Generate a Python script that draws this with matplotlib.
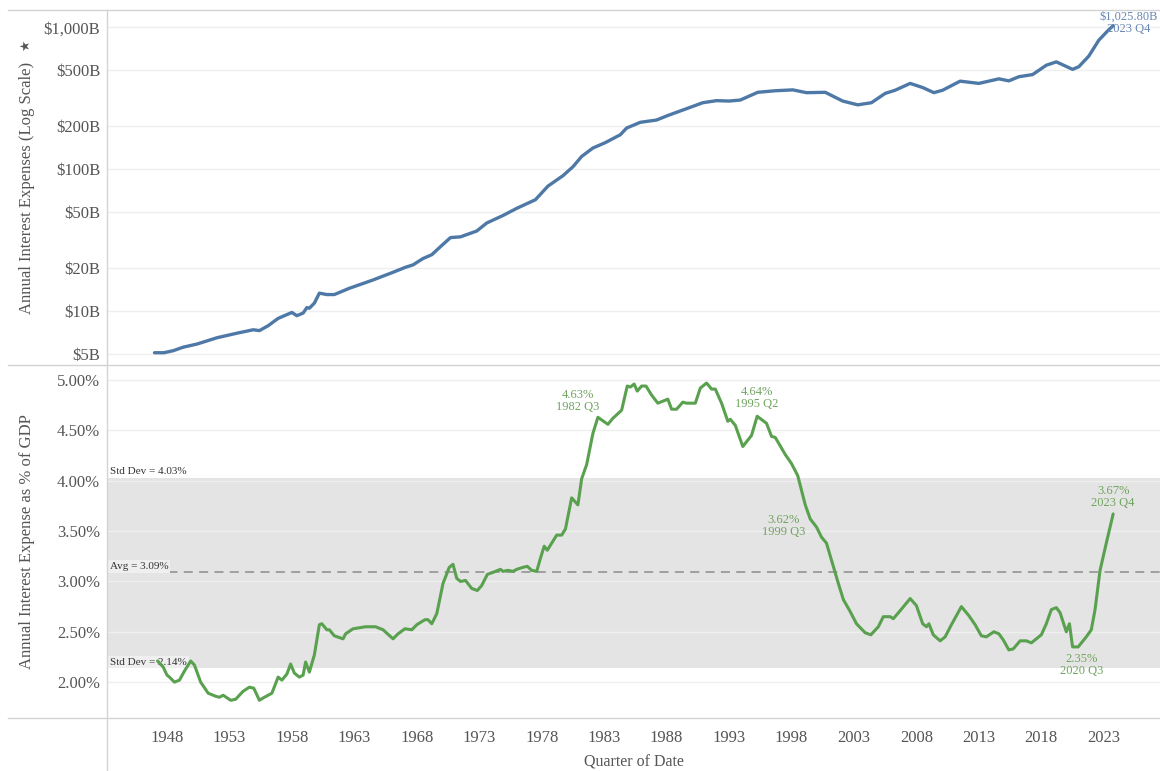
import matplotlib
matplotlib.use('Agg')
import matplotlib.pyplot as plt
from matplotlib.ticker import FixedLocator, FuncFormatter, NullLocator
from matplotlib.lines import Line2D
import matplotlib.transforms as mtrans

plt.rcParams['font.family'] = ['Liberation Serif', 'DejaVu Serif']

# ---------------- data ----------------
top_years = [1947.0, 1947.75, 1948.5, 1949.3, 1950.4, 1952.0, 1953.6, 1954.9, 1955.4, 1956.1,
             1956.9, 1958.0, 1958.4, 1958.9, 1959.2, 1959.4, 1959.8, 1960.2, 1960.8, 1961.4,
             1962.6, 1964.5, 1966.1, 1967.1, 1967.7, 1968.5, 1969.2, 1969.9, 1970.7, 1971.5,
             1972.8, 1973.6, 1974.9, 1976.0, 1977.5, 1978.5, 1979.7, 1980.5, 1981.2, 1982.1,
             1983.1, 1984.3, 1984.8, 1985.9, 1987.2, 1988.1, 1989.4, 1990.9, 1992.0, 1993.0,
             1993.9, 1995.3, 1996.7, 1998.1, 1999.2, 2000.7, 2002.1, 2003.3, 2004.4, 2005.5,
             2006.3, 2007.5, 2008.5, 2009.4, 2010.1, 2011.5, 2013.0, 2014.6, 2015.4, 2016.2,
             2017.3, 2018.4, 2019.2, 2020.5, 2021.0, 2021.8, 2022.6, 2023.3, 2023.75]
top_values = [5.1, 5.1, 5.27, 5.58, 5.87, 6.5, 7.0, 7.4, 7.3, 7.9,
              8.9, 9.8, 9.3, 9.7, 10.6, 10.5, 11.4, 13.4, 13.1, 13.1,
              14.5, 16.6, 18.8, 20.4, 21.2, 23.5, 25.0, 28.5, 33.0, 33.4,
              36.7, 41.8, 47.2, 53.0, 61.0, 76.0, 90.0, 104.0, 123.0, 141.0,
              154.0, 175.0, 195.0, 214.0, 222.0, 239.0, 263.0, 294.0, 304.0, 302.0,
              307.0, 348.0, 357.0, 362.0, 346.0, 348.0, 302.0, 284.0, 294.0, 342.0,
              360.0, 402.0, 376.0, 346.0, 360.0, 417.0, 402.0, 433.0, 419.0, 448.0,
              464.0, 540.0, 570.0, 505.0, 527.0, 626.0, 810.0, 940.0, 1025.8]

gdp_years = [1947.25, 1947.7, 1948.0, 1948.2, 1948.6, 1949.0, 1949.4, 1949.9, 1950.2, 1950.7,
             1951.3, 1951.9, 1952.2, 1952.5, 1953.1, 1953.5, 1954.1, 1954.6, 1954.95, 1955.4,
             1955.8, 1956.4, 1956.9, 1957.2, 1957.6, 1957.9, 1958.2, 1958.6, 1958.9, 1959.1,
             1959.4, 1959.8, 1960.2, 1960.4, 1960.8, 1961.0, 1961.4, 1962.1, 1962.3, 1962.9,
             1963.9, 1964.7, 1965.3, 1966.1, 1966.5, 1967.05, 1967.6, 1968.0, 1968.65, 1968.9,
             1969.2, 1969.6, 1970.1, 1970.6, 1970.9, 1971.2, 1971.5, 1971.9, 1972.4, 1972.85,
             1973.2, 1973.65, 1974.1, 1974.7, 1974.9, 1975.3, 1975.7, 1976.0, 1976.5, 1976.85,
             1977.2, 1977.6, 1977.9, 1978.2, 1978.45, 1978.8, 1979.2, 1979.6, 1979.9, 1980.4,
             1980.9, 1981.2, 1981.6, 1982.1, 1982.5, 1983.3, 1983.7, 1984.4, 1984.85, 1985.1,
             1985.4, 1985.65, 1986.0, 1986.35, 1986.8, 1987.3, 1987.7, 1988.1, 1988.4, 1988.8,
             1989.3, 1989.6, 1990.3, 1990.7, 1991.2, 1991.6, 1991.9, 1992.4, 1992.9, 1993.1,
             1993.5, 1994.1, 1994.8, 1995.25, 1996.0, 1996.4, 1996.7, 1997.5, 1998.0, 1998.5,
             1999.1, 1999.5, 2000.0, 2000.4, 2000.8, 2001.35, 2001.75, 2002.15, 2002.7, 2003.2,
             2003.9, 2004.35, 2004.95, 2005.35, 2005.9, 2006.15, 2006.7, 2007.1, 2007.5, 2008.0,
             2008.5, 2008.8, 2009.0, 2009.35, 2009.9, 2010.3, 2010.8, 2011.6, 2012.2, 2012.7,
             2013.2, 2013.6, 2014.2, 2014.6, 2014.95, 2015.4, 2015.75, 2016.3, 2016.8, 2017.2,
             2017.6, 2018.0, 2018.4, 2018.8, 2019.2, 2019.5, 2020.0, 2020.25, 2020.5, 2020.95,
             2021.6, 2022.0, 2022.3, 2022.7, 2023.2, 2023.75]
gdp_values = [2.21, 2.15, 2.07, 2.05, 2.00, 2.02, 2.11, 2.21, 2.17, 2.00,
              1.89, 1.86, 1.85, 1.87, 1.82, 1.83, 1.91, 1.95, 1.94, 1.82,
              1.85, 1.89, 2.05, 2.02, 2.08, 2.18, 2.09, 2.05, 2.07, 2.20,
              2.10, 2.27, 2.57, 2.58, 2.52, 2.52, 2.46, 2.43, 2.48, 2.53,
              2.55, 2.55, 2.52, 2.43, 2.48, 2.53, 2.52, 2.57, 2.62, 2.62,
              2.58, 2.68, 2.98, 3.14, 3.17, 3.03, 3.00, 3.01, 2.93, 2.91,
              2.96, 3.07, 3.09, 3.12, 3.10, 3.11, 3.10, 3.12, 3.14, 3.15,
              3.11, 3.10, 3.23, 3.35, 3.31, 3.38, 3.46, 3.46, 3.52, 3.83,
              3.76, 4.02, 4.16, 4.47, 4.63, 4.56, 4.62, 4.70, 4.94, 4.93,
              4.96, 4.89, 4.94, 4.94, 4.85, 4.77, 4.79, 4.81, 4.71, 4.71,
              4.78, 4.77, 4.77, 4.92, 4.97, 4.91, 4.91, 4.77, 4.59, 4.61,
              4.55, 4.34, 4.45, 4.64, 4.57, 4.44, 4.43, 4.26, 4.17, 4.05,
              3.76, 3.62, 3.54, 3.44, 3.38, 3.15, 2.98, 2.82, 2.70, 2.58,
              2.49, 2.47, 2.55, 2.65, 2.65, 2.63, 2.71, 2.77, 2.83, 2.76,
              2.58, 2.55, 2.58, 2.47, 2.41, 2.45, 2.57, 2.75, 2.66, 2.57,
              2.46, 2.45, 2.50, 2.48, 2.42, 2.32, 2.33, 2.41, 2.41, 2.39,
              2.43, 2.47, 2.58, 2.72, 2.74, 2.69, 2.50, 2.58, 2.35, 2.35,
              2.45, 2.52, 2.72, 3.11, 3.38, 3.67]

avg_pct = 3.09
sd_low = 2.14
sd_high = 4.03

top_ticks = [5, 10, 20, 50, 100, 200, 500, 1000]
gdp_ticks = [2.0, 2.5, 3.0, 3.5, 4.0, 4.5, 5.0]
year_ticks = list(range(1948, 2024, 5))

# annotations: (year, value, label, dx_px, dy_px)
gdp_annots = [(1982.5, 4.63, "4.63%\n1982 Q3", -20, 16),
              (1995.25, 4.64, "4.64%\n1995 Q2", 0, 18),
              (1999.5, 3.62, "3.62%\n1999 Q3", -27, -7),
              (2020.5, 2.35, "2.35%\n2020 Q3", 9, -18),
              (2023.75, 3.67, "3.67%\n2023 Q4", 0, 17)]
top_annot = (2023.75, 1025.8, "$1,025.80B\n2023 Q4")

# ---------------- style ----------------
BLUE = '#4e79a7'
GREEN = '#59a14f'
GREEN_TXT = '#6fa45f'
BLUE_TXT = '#6787b3'
TICK_C = '#555555'
GRID_C = '#efefef'
DIV_C = '#d3d3d3'

W, H = 1160, 771
fig = plt.figure(figsize=(W / 100, H / 100), dpi=100)


def px_rect(l, t, r, b):
    return [l / W, 1 - b / H, (r - l) / W, (b - t) / H]


ax1 = fig.add_axes(px_rect(107, 10, 1160, 365))
ax2 = fig.add_axes(px_rect(107, 365, 1160, 718), sharex=ax1)

XMIN, XMAX = 1943.2, 2027.5

for ax in (ax1, ax2):
    for s in ax.spines.values():
        s.set_visible(False)
    ax.set_axisbelow(True)
    ax.grid(axis='y', color=GRID_C, linewidth=1.0)
    ax.grid(axis='x', visible=False)
    ax.tick_params(length=0, labelsize=12, colors=TICK_C, pad=5)

# ---- top panel ----
ax1.plot(top_years, top_values, color=BLUE, linewidth=2.4, solid_capstyle='round',
         solid_joinstyle='round', zorder=3)
ax1.set_yscale('log')
ax1.set_ylim(4.18, 1322)
ax1.yaxis.set_major_locator(FixedLocator(top_ticks))
ax1.yaxis.set_minor_locator(NullLocator())
ax1.yaxis.set_major_formatter(FuncFormatter(lambda v, p: '${:,.0f}B'.format(v)))
ax1.set_ylabel('Annual Interest Expenses (Log Scale)', fontsize=12, color=TICK_C)
ax1.yaxis.set_label_coords(-0.068, 0.5)
ax1.tick_params(axis='x', labelbottom=False)
ax1.annotate(top_annot[2], xy=(top_annot[0], top_annot[1]), xytext=(16, 3),
             textcoords='offset pixels', ha='center', va='center', fontsize=9,
             color=BLUE_TXT, linespacing=1.0, annotation_clip=False)

# ---- bottom panel ----
ax2.axhspan(sd_low, sd_high, color='#e4e4e4', zorder=0.2, linewidth=0)
ax2.axhline(avg_pct, color='#999999', linewidth=1.3, dashes=(5, 3.5), zorder=2)
ax2.plot(gdp_years, gdp_values, color=GREEN, linewidth=2.2, solid_capstyle='round',
         solid_joinstyle='round', zorder=3)
ax2.set_ylim(1.644, 5.149)
ax2.yaxis.set_major_locator(FixedLocator(gdp_ticks))
ax2.yaxis.set_major_formatter(FuncFormatter(lambda v, p: '{:.2f}%'.format(v)))
ax2.set_ylabel('Annual Interest Expense as % of GDP', fontsize=12, color=TICK_C)
ax2.yaxis.set_label_coords(-0.068, 0.5)
ax2.set_xlim(XMIN, XMAX)
ax2.xaxis.set_major_locator(FixedLocator(year_ticks))
ax2.xaxis.set_major_formatter(FuncFormatter(lambda v, p: '{:d}'.format(int(round(v)))))
ax2.tick_params(axis='x', pad=9)
ax2.set_xlabel('Quarter of Date', fontsize=11.5, color=TICK_C, labelpad=6)

tr = mtrans.blended_transform_factory(ax2.transAxes, ax2.transData)
off = mtrans.offset_copy(tr, fig=fig, x=0, y=1.5, units='dots')
ax2.text(0.003, sd_high, 'Std Dev = {:.2f}%'.format(sd_high), transform=off,
         fontsize=8, color='#333333', ha='left', va='bottom', zorder=4)
ax2.text(0.003, avg_pct, 'Avg = {:.2f}%'.format(avg_pct), transform=off,
         fontsize=8, color='#333333', ha='left', va='bottom', zorder=4,
         bbox=dict(boxstyle='square,pad=0.15', facecolor='#efefef', edgecolor='none'))
ax2.text(0.003, sd_low, 'Std Dev = {:.2f}%'.format(sd_low), transform=off,
         fontsize=8, color='#333333', ha='left', va='bottom', zorder=2.5,
         bbox=dict(boxstyle='square,pad=0.15', facecolor='#efefef', edgecolor='none'))

for yr, v, lab, dx, dy in gdp_annots:
    ax2.annotate(lab, xy=(yr, v), xytext=(dx, dy), textcoords='offset pixels',
                 ha='center', va='center', fontsize=9, color=GREEN_TXT,
                 linespacing=1.0, zorder=5)

# ---- divider lines (Tableau pane borders) ----
def fig_line(x0, y0, x1, y1):
    fig.add_artist(Line2D([x0 / W, x1 / W], [1 - y0 / H, 1 - y1 / H],
                          transform=fig.transFigure, color=DIV_C, linewidth=1.0))

fig_line(8, 10, W, 10)
fig_line(8, 365, W, 365)
fig_line(8, 718, W, 718)
fig_line(107, 10, 107, H)

# pin icon next to top axis title
fig.text(26 / W, 1 - 45 / H, '\u2605', fontsize=9, color='#555555', ha='center',
         va='center', rotation=90, family=['DejaVu Sans'])

fig.savefig('out.png', dpi=100, facecolor='white')
